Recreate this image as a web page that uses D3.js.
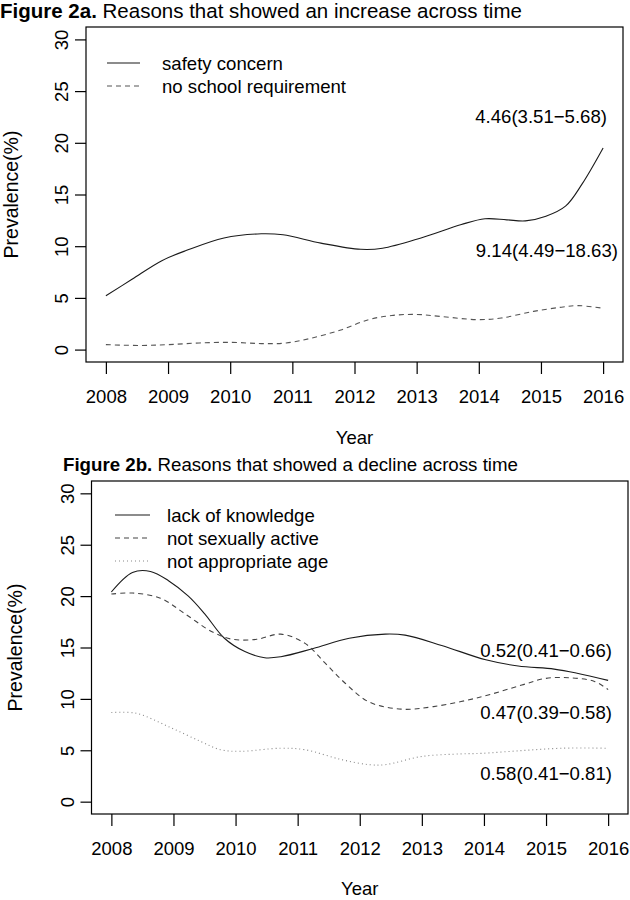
<!DOCTYPE html>
<html>
<head>
<meta charset="utf-8">
<script src="https://cdn.jsdelivr.net/npm/d3@7"></script>
<style>
  html, body { margin: 0; padding: 0; background: #fff; }
  svg { display: block; font-family: "Liberation Sans", Arial, sans-serif; }
</style>
</head>
<body>
<svg id="chart" width="630" height="900"></svg>
<script>
// ---------- data ----------
const yearTicks = [2008, 2009, 2010, 2011, 2012, 2013, 2014, 2015, 2016];
const yTicks = [0, 5, 10, 15, 20, 25, 30];

// Figure 2a
const safetyYears  = [2008, 2008.42, 2008.9, 2009.3, 2009.9, 2010.5, 2010.85, 2011.46, 2012.1, 2012.45, 2013.07, 2013.72, 2014.1, 2014.45, 2014.75, 2015.08, 2015.4, 2015.66, 2016];
const safetyValues = [5.2, 6.8, 8.6, 9.6, 10.8, 11.2, 11.1, 10.3, 9.7, 9.8, 10.8, 12.1, 12.65, 12.55, 12.45, 12.9, 13.9, 16.0, 19.5];
const schoolYears  = [2008, 2008.55, 2009, 2009.5, 2010.03, 2010.5, 2010.9, 2011.3, 2011.78, 2012.23, 2012.6, 2013.0, 2013.4, 2013.97, 2014.36, 2014.88, 2015.33, 2015.6, 2016];
const schoolValues = [0.48, 0.4, 0.48, 0.64, 0.7, 0.58, 0.64, 1.1, 1.9, 2.9, 3.3, 3.4, 3.2, 2.9, 3.05, 3.7, 4.1, 4.25, 4.0];

// Figure 2b
const knowYears  = [2008, 2008.34, 2008.63, 2008.92, 2009.24, 2009.5, 2009.82, 2010.15, 2010.47, 2010.73, 2011.25, 2011.83, 2012.41, 2012.73, 2013.32, 2014.03, 2014.55, 2015.13, 2015.5, 2016];
const knowValues = [20.4, 22.3, 22.4, 21.5, 20.0, 18.3, 15.9, 14.6, 14.0, 14.1, 14.9, 15.9, 16.3, 16.2, 15.2, 13.8, 13.2, 12.9, 12.5, 11.8];
const sexYears  = [2008, 2008.34, 2008.79, 2009.18, 2009.63, 2009.95, 2010.34, 2010.73, 2011.12, 2011.44, 2011.77, 2012.15, 2012.67, 2013.19, 2013.96, 2014.61, 2015.0, 2015.39, 2015.78, 2016];
const sexValues = [20.2, 20.3, 19.8, 18.3, 16.5, 15.8, 15.8, 16.3, 15.4, 13.5, 11.5, 9.7, 9.0, 9.25, 10.2, 11.35, 12.0, 12.05, 11.7, 10.9];
const ageYears  = [2008, 2008.4, 2008.92, 2009.44, 2009.76, 2010.08, 2010.73, 2011.12, 2011.7, 2012.15, 2012.41, 2013.0, 2013.64, 2013.96, 2014.61, 2015.26, 2016];
const ageValues = [8.67, 8.6, 7.3, 5.85, 5.05, 4.9, 5.2, 5.05, 4.1, 3.6, 3.6, 4.4, 4.65, 4.7, 4.97, 5.2, 5.2];

// ---------- drawing ----------
const svg = d3.select("#chart");
const FS = 18.5;     // tick labels
const LFS = 18.6;    // legend / annotation text

const panels = [
  {
    titleBold: "Figure 2a.", titleRest: " Reasons that showed an increase across time",
    titleX: 0, titleY: 17.5, titleFS: 20.5,
    box: {l: 86, r: 623, t: 27, b: 362},
    series: [
      {label: "safety concern", years: safetyYears, values: safetyValues, dash: null, color: "#1a1a1a", w: 1.1},
      {label: "no school requirement", years: schoolYears, values: schoolValues, dash: "5,4", color: "#555", w: 1.1}
    ],
    legend: {x1: 107, x2: 140, tx: 162, y0: 63, dy: 23},
    notes: [
      {text: "4.46(3.51\u22125.68)", x: 607, y: 122.5},
      {text: "9.14(4.49\u221218.63)", x: 618, y: 256.5}
    ],
    ylabX: 18, yearY: 82
  },
  {
    titleBold: "Figure 2b.", titleRest: " Reasons that showed a decline across time",
    titleX: 63, titleY: 470.5, titleFS: 18.7,
    box: {l: 91.5, r: 628, t: 481, b: 814},
    series: [
      {label: "lack of knowledge", years: knowYears, values: knowValues, dash: null, color: "#1a1a1a", w: 1.1},
      {label: "not sexually active", years: sexYears, values: sexValues, dash: "5,4", color: "#444", w: 1.1},
      {label: "not appropriate age", years: ageYears, values: ageValues, dash: "1,3", color: "#888", w: 1.1}
    ],
    legend: {x1: 115, x2: 150, tx: 167, y0: 515, dy: 23},
    notes: [
      {text: "0.52(0.41\u22120.66)", x: 612, y: 656.5},
      {text: "0.47(0.39\u22120.58)", x: 612, y: 718.5},
      {text: "0.58(0.41\u22120.81)", x: 612, y: 779.5}
    ],
    ylabX: 22, yearY: 81
  }
];

panels.forEach(p => {
  const B = p.box;
  const xr = 8 * 0.04, yr = 30 * 0.04;
  const x = d3.scaleLinear().domain([2008 - xr, 2016 + xr]).range([B.l, B.r]);
  const y = d3.scaleLinear().domain([0 - yr, 30 + yr]).range([B.b, B.t]);
  const g = svg.append("g");

  // title
  const t = g.append("text").attr("x", p.titleX).attr("y", p.titleY)
    .attr("font-size", p.titleFS).attr("fill", "#000");
  t.append("tspan").attr("font-weight", "bold").text(p.titleBold);
  t.append("tspan").text(p.titleRest);

  // box
  g.append("rect").attr("x", B.l).attr("y", B.t)
    .attr("width", B.r - B.l).attr("height", B.b - B.t)
    .attr("fill", "none").attr("stroke", "#000").attr("stroke-width", 1.2);

  // x axis
  const xa = g.append("g").attr("transform", `translate(0,${B.b})`)
    .call(d3.axisBottom(x).tickValues(yearTicks).tickFormat(d3.format("d")).tickSize(12).tickPadding(16));
  xa.select(".domain").remove();
  xa.selectAll("line").attr("stroke", "#000").attr("stroke-width", 1.2);
  xa.selectAll("text").attr("font-size", FS).attr("fill", "#000").attr("font-family", "Liberation Sans, Arial, sans-serif");

  // y axis
  const ya = g.append("g").attr("transform", `translate(${B.l},0)`)
    .call(d3.axisLeft(y).tickValues(yTicks).tickSize(11).tickFormat(d3.format("d")));
  ya.select(".domain").remove();
  ya.selectAll("line").attr("stroke", "#000").attr("stroke-width", 1.2);
  ya.selectAll("text").remove();
  ya.selectAll(".tick").append("text")
    .attr("transform", "translate(-18,0) rotate(-90)")
    .attr("text-anchor", "middle")
    .attr("font-size", FS).attr("fill", "#000")
    .attr("font-family", "Liberation Sans, Arial, sans-serif")
    .text(d => d);

  // axis titles
  g.append("text").attr("x", (B.l + B.r) / 2).attr("y", B.b + p.yearY)
    .attr("text-anchor", "middle").attr("font-size", FS).attr("fill", "#000").text("Year");
  g.append("text").attr("transform", `translate(${p.ylabX},${(B.t + B.b) / 2}) rotate(-90)`)
    .attr("text-anchor", "middle").attr("font-size", 19.5).attr("fill", "#000").text("Prevalence(%)");

  // lines
  const line = d3.line().x(d => x(d[0])).y(d => y(d[1])).curve(d3.curveCatmullRom.alpha(0.5));
  p.series.forEach(s => {
    const pts = s.years.map((yr, i) => [yr, s.values[i]]);
    g.append("path").attr("d", line(pts)).attr("fill", "none")
      .attr("stroke", s.color).attr("stroke-width", s.w)
      .attr("stroke-dasharray", s.dash);
  });

  // legend
  p.series.forEach((s, i) => {
    const ly = p.legend.y0 + i * p.legend.dy;
    g.append("line").attr("x1", p.legend.x1).attr("x2", p.legend.x2)
      .attr("y1", ly).attr("y2", ly)
      .attr("stroke", s.color).attr("stroke-width", s.w).attr("stroke-dasharray", s.dash);
    g.append("text").attr("x", p.legend.tx).attr("y", ly + 6.5)
      .attr("font-size", LFS).attr("fill", "#000").text(s.label);
  });

  // annotations
  p.notes.forEach(n => {
    g.append("text").attr("x", n.x).attr("y", n.y).attr("text-anchor", "end")
      .attr("font-size", LFS).attr("fill", "#000").text(n.text);
  });
});
</script>
</body>
</html>
